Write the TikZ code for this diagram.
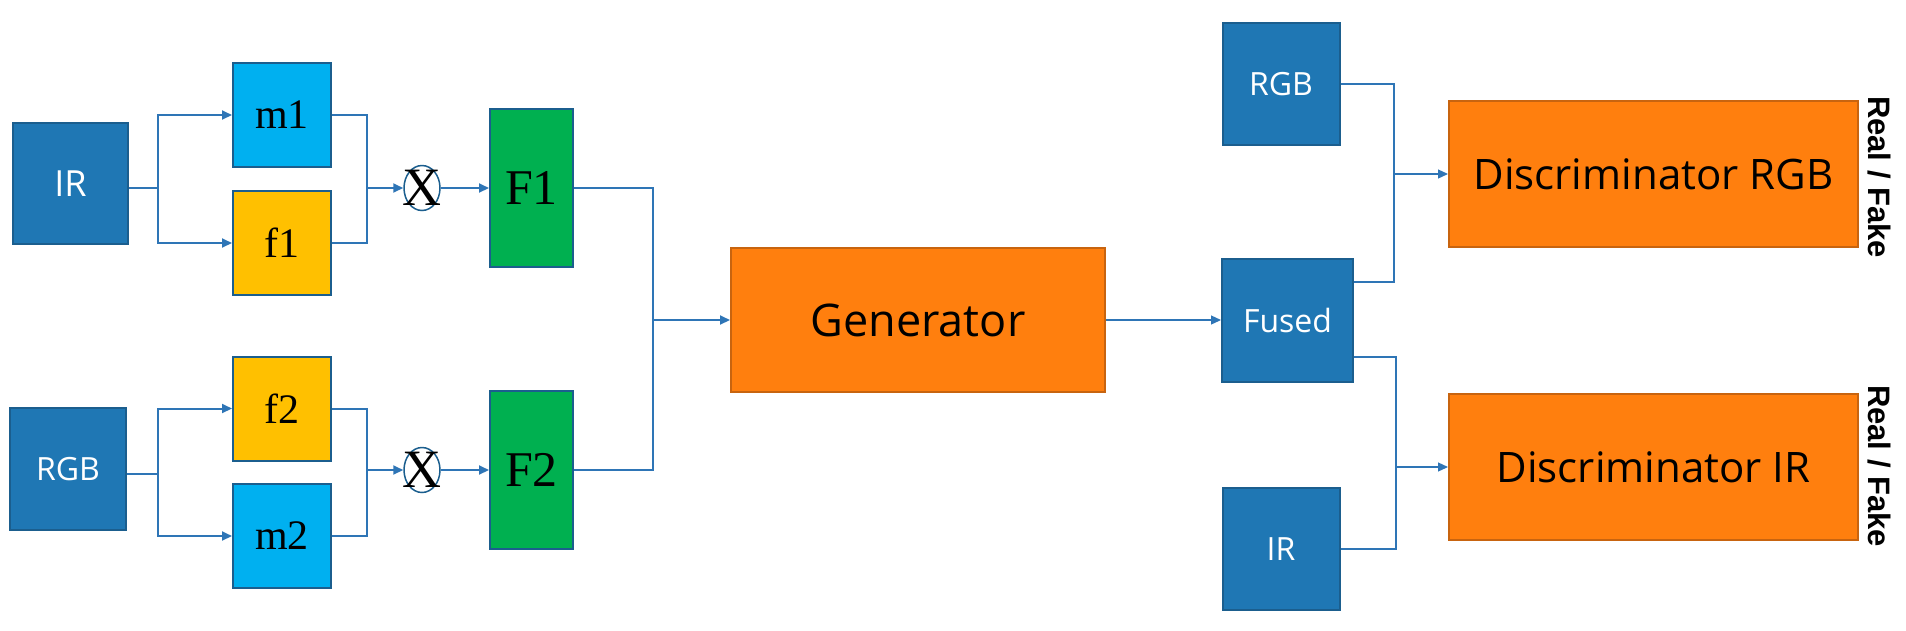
\documentclass[tikz,border=0pt]{standalone}
\usepackage{fontspec}
\setmainfont{Open Sans}
\newfontfamily\serifTNR{Liberation Serif}
\newfontfamily\arialB{Liberation Sans}
\usetikzlibrary{arrows.meta,shapes.geometric}
\definecolor{dblue}{HTML}{1F77B4}
\definecolor{dblueB}{HTML}{1B5E8E}
\definecolor{lblue}{HTML}{00B0F0}
\definecolor{yell}{HTML}{FFC000}
\definecolor{grn}{HTML}{00B050}
\definecolor{orng}{HTML}{FF7F0E}
\definecolor{orngB}{HTML}{C8640F}
\definecolor{wire}{HTML}{2E75B6}
\begin{document}
\begin{tikzpicture}[x=1pt,y=-1pt,
  basebox/.style={draw=dblueB, line width=2pt, inner sep=0pt},
  inbox/.style={basebox, fill=dblue, text=white, minimum width=116, minimum height=122, font=\fontsize{32}{38}\selectfont},
  maskbox/.style={basebox, fill=lblue, minimum width=98, minimum height=104, font=\serifTNR\fontsize{42}{48}\selectfont},
  featbox/.style={basebox, fill=yell, minimum width=98, minimum height=104, font=\serifTNR\fontsize{42}{48}\selectfont},
  fusebox/.style={basebox, fill=grn, minimum width=83, minimum height=158, font=\serifTNR\fontsize{50}{56}\selectfont},
  ganbox/.style={draw=orngB, line width=2pt, inner sep=0pt, fill=orng, text=black},
  mult/.style={ellipse, draw=dblueB, line width=1.5pt, inner sep=0pt, minimum width=36, minimum height=45,
     label={[font=\serifTNR\fontsize{54}{60}\selectfont, inner sep=0pt]center:X}},
  wire/.style={draw=wire, line width=2pt},
  arr/.style={wire, -{Triangle[length=10pt,width=9pt]}},
  thinwire/.style={draw=wire, line width=1.2pt},
  thinarr/.style={thinwire, -{Triangle[length=10pt,width=9pt]}},
  rf/.style={font=\arialB\bfseries\fontsize{31}{36}\selectfont, rotate=-90, inner sep=0pt}
]
\path[use as bounding box] (0,0) rectangle (1906,630);

% left inputs
\node[inbox, minimum width=115, minimum height=121, font=\fontsize{36}{42}\selectfont] (irL) at (70.5,183.5) {IR};
\node[inbox] (rgbL) at (68,469) {RGB};

\node[maskbox] (m1) at (282,115) {m1};
\node[featbox] (f1) at (282,243) {f1};
\node[featbox] (f2) at (282,408.5) {f2};
\node[maskbox] (m2) at (282,536) {m2};

\node[mult] (x1) at (422,188) {};
\node[mult] (x2) at (422,470) {};

\node[fusebox] (F1) at (531.5,188) {F1};
\node[fusebox] (F2) at (531.5,470) {F2};

\node[ganbox, minimum width=374, minimum height=144, font=\fontsize{45}{52}\selectfont] (gen) at (918,320) {Generator};

\node[inbox, minimum width=117] (rgbR) at (1281,84) {RGB};
\node[inbox, minimum width=131, minimum height=123] (fused) at (1287.5,320) {Fused};
\node[inbox, minimum width=117] (irR) at (1281,549) {IR};

\node[ganbox, minimum width=409, minimum height=146, font=\fontsize{42}{50}\selectfont] (dRGB) at (1653.5,174) {Discriminator RGB};
\node[ganbox, minimum width=409, minimum height=146, font=\fontsize{42}{50}\selectfont] (dIR) at (1653.5,467) {Discriminator IR};

\node[rf] (rf1) at (1879,177) {Real / Fake};
\node[rf] (rf2) at (1879,466) {Real / Fake};

% upper branch
\coordinate (s1) at (158,188);
\draw[wire] (irL.east |- s1) -- (s1);
\draw[arr] (s1) |- (m1.west);
\draw[arr] (s1) |- (f1.west);
\coordinate (j1) at (367,188);
\draw[wire] (m1.east) -| (j1);
\draw[wire] (f1.east) -| (j1);
\draw[arr] (j1) -- (x1.west);
\draw[arr] (x1.east) -- (F1.west);

% lower branch
\coordinate (s2) at (158,474);
\draw[wire] (rgbL.east |- s2) -- (s2);
\draw[arr] (s2) |- (f2.west);
\draw[arr] (s2) |- (m2.west);
\coordinate (j2) at (367,470);
\draw[wire] (f2.east) -| (j2);
\draw[wire] (m2.east) -| (j2);
\draw[arr] (j2) -- (x2.west);
\draw[arr] (x2.east) -- (F2.west);

% to generator
\coordinate (g) at (653,320);
\draw[wire] (F1.east) -| (g);
\draw[wire] (F2.east) -| (g);
\draw[arr] (g) -- (gen.west);
\draw[thinarr] (gen.east) -- (fused.west);

% discriminators
\coordinate (d1) at (1394,174);
\draw[thinwire] (rgbR.east) -| (d1);
\draw[thinwire] (fused.east) ++(0,-38) -| (d1);
\draw[thinarr] (d1) -- (dRGB.west);
\coordinate (d2) at (1396,467);
\draw[thinwire] (fused.east) ++(0,37) -| (d2);
\draw[thinwire] (irR.east) -| (d2);
\draw[thinarr] (d2) -- (dIR.west);
\end{tikzpicture}
\end{document}
